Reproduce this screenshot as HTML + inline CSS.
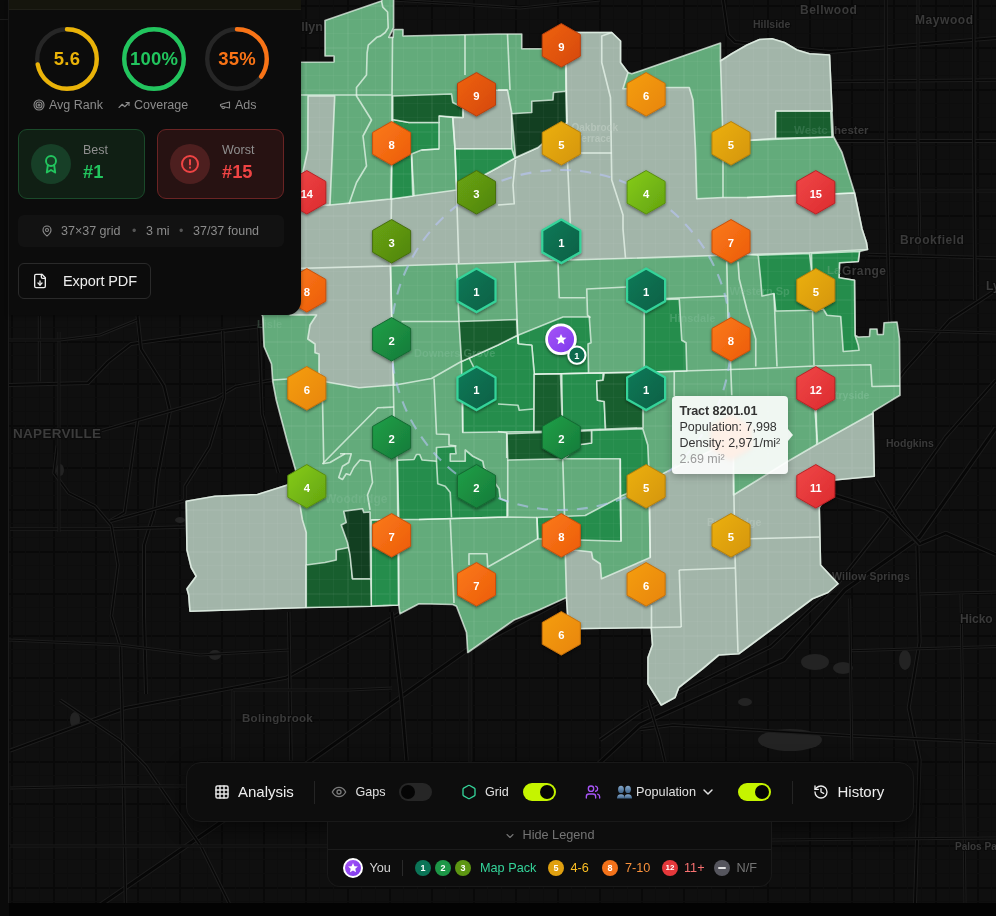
<!DOCTYPE html><html><head><meta charset="utf-8"><title>Map</title><style>
*{box-sizing:border-box;margin:0;padding:0}
html,body{width:996px;height:916px;overflow:hidden;background:#0a0a0a;font-family:"Liberation Sans",sans-serif;}
#root{position:relative;width:996px;height:916px;overflow:hidden;background:#0a0a0a}
#mapbg{position:absolute;left:9px;top:0;width:987px;height:903px;background:#0f0f0f;overflow:hidden}
#leftline{position:absolute;left:8px;top:0;width:1px;height:903px;background:#1c1c1c}
#lefth{position:absolute;left:0;top:19px;width:8px;height:1px;background:#1a1a1a}
#below{position:absolute;left:9px;top:903px;width:987px;height:13px;background:#030303}
#ov{position:absolute;left:0;top:0;will-change:transform}
#panel,#tb,#lg,#tip{will-change:transform}
#bg{position:absolute;left:0;top:0;will-change:transform}
/* panel */
#panel{position:absolute;left:9px;top:0;width:292px;height:315px;background:#0c0c0c;border-radius:0 0 14px 0;box-shadow:0 1px 4px rgba(0,0,0,.35)}
#ptop{position:absolute;left:0;top:0;width:292px;height:10px;background:#15150d;border-bottom:1px solid #1f1f18}
.ring{position:absolute;top:27px;width:64px;height:64px}
.ring svg{position:absolute;left:0;top:0}
.ring .val{position:absolute;left:0;top:0;width:64px;height:64px;line-height:64px;text-align:center;font-weight:700;font-size:18.5px;letter-spacing:.2px}
.rlab{position:absolute;top:98px;height:14px;line-height:14px;font-size:12.5px;color:#8b8b8b;white-space:nowrap}
.rlab svg{position:absolute;top:1px}
.card{position:absolute;top:129px;width:127px;height:70px;border-radius:9px;border:1px solid}
.card .ic{position:absolute;left:12px;top:14px;width:40px;height:40px;border-radius:50%}
.card .t1{position:absolute;left:64px;top:13px;font-size:12.5px;color:#8f8f8f;line-height:14px}
.card .t2{position:absolute;left:64px;top:31px;font-size:18.3px;font-weight:700;line-height:22px}
#info{position:absolute;left:9px;top:215px;width:266px;height:32px;border-radius:6px;background:#121212;color:#8b8b8b;font-size:12.5px;line-height:32px}
#info span{position:absolute;top:0;white-space:nowrap}
#export{position:absolute;left:9px;top:263px;width:133px;height:36px;border:1px solid #2a2a2a;border-radius:6px;background:#0c0c0c}
#export span{position:absolute;left:44px;top:0;line-height:34px;font-size:14.5px;color:#ececec;white-space:nowrap;letter-spacing:-.1px}
/* toolbar */
#tb{position:absolute;left:186px;top:762px;width:728px;height:60px;background:#0d0d0d;border:1px solid #191919;border-radius:15px;box-shadow:0 6px 20px rgba(0,0,0,.5)}
#tb .tx{position:absolute;top:0;line-height:58px;white-space:nowrap}
.tog{position:absolute;top:20px;width:33px;height:18px;border-radius:9px}
.tog i{position:absolute;top:2px;width:14px;height:14px;border-radius:50%;background:#050505}
.vd{position:absolute;top:18px;width:1px;height:23px;background:#242424}
#lg{position:absolute;left:327px;top:822px;width:445px;height:65px;background:#0d0d0d;border:1px solid #191919;border-top:none;border-radius:0 0 13px 13px}
#lg .sep{position:absolute;left:0;top:27px;width:100%;height:1px;background:#1c1c1c}
#lg .hl{position:absolute;left:0;top:0;width:100%;height:27px;line-height:26px;font-size:12.7px;color:#747474}
.dot{position:absolute;top:38px;width:16px;height:16px;border-radius:50%;color:#fff;font-weight:700;font-size:9px;line-height:16px;text-align:center}
.lt{position:absolute;top:36px;line-height:20px;font-size:12.7px;white-space:nowrap}
/* tooltip */
#tip{position:absolute;left:672px;top:396px;width:116px;height:78px;background:rgba(255,255,255,.9);border-radius:4px;box-shadow:0 2px 8px rgba(0,0,0,.25);font-size:12.5px;color:#333;line-height:16.1px;padding:7px 0 0 7.500px;white-space:nowrap}
#tip b{font-size:12.6px;letter-spacing:-.1px}
#tip .g{color:#9a9a9a}
#tiparrow{position:absolute;left:788px;top:429px;width:0;height:0;border-top:6px solid transparent;border-bottom:6px solid transparent;border-left:5px solid rgba(255,255,255,.9)}
</style></head><body><div id="root"><div id="leftline"></div><div id="lefth"></div><div id="mapbg"></div><div id="below"></div><svg id="bg" width="996" height="916" viewBox="0 0 996 916"><defs><clipPath id="bgclip"><rect x="9" y="0" width="987" height="903"/></clipPath><pattern id="grid" width="42" height="42" patternUnits="userSpaceOnUse" patternTransform="translate(11 5)"><rect width="42" height="42" fill="#0f0f0f"/><path d="M0 1H42M1 0V42" stroke="#090909" stroke-width="2"/><path d="M0 14.500H42M0 28.500H42M14.500 0V42M28.500 0V42" stroke="#0d0d0d" stroke-width="1"/></pattern></defs><g clip-path="url(#bgclip)"><rect x="9" y="0" width="987" height="903" fill="url(#grid)"/><ellipse cx="815" cy="662" rx="14" ry="8" fill="#232323"/><ellipse cx="843" cy="668" rx="10" ry="6" fill="#232323"/><ellipse cx="790" cy="740" rx="32" ry="11" fill="#232323"/><ellipse cx="745" cy="702" rx="7" ry="4" fill="#232323"/><ellipse cx="905" cy="660" rx="6" ry="10" fill="#232323"/><ellipse cx="650" cy="880" rx="12" ry="6" fill="#232323"/><ellipse cx="735" cy="870" rx="8" ry="6" fill="#232323"/><ellipse cx="600" cy="845" rx="7" ry="4" fill="#232323"/><ellipse cx="215" cy="655" rx="6" ry="5" fill="#232323"/><ellipse cx="60" cy="470" rx="4" ry="6" fill="#232323"/><ellipse cx="75" cy="720" rx="5" ry="8" fill="#232323"/><ellipse cx="180" cy="520" rx="5" ry="3" fill="#232323"/><polyline points="8,385 88,383 108,362 131,344 223,331 262,326" fill="none" stroke="#1d1d1d" stroke-width="4" stroke-linejoin="round"/><polyline points="8,385 88,383 108,362 131,344 223,331 262,326" fill="none" stroke="#070707" stroke-width="2" stroke-linejoin="round"/><polyline points="137.5,316 141,349 164,386 170,411 157,480 154,512.5 144,545 144,616 146,694" fill="none" stroke="#1d1d1d" stroke-width="4" stroke-linejoin="round"/><polyline points="137.5,316 141,349 164,386 170,411 157,480 154,512.5 144,545 144,616 146,694" fill="none" stroke="#070707" stroke-width="2" stroke-linejoin="round"/><polyline points="101.5,430.6 170,411 216,398 236,386.4 272,380" fill="none" stroke="#1d1d1d" stroke-width="3.5" stroke-linejoin="round"/><polyline points="101.5,430.6 170,411 216,398 236,386.4 272,380" fill="none" stroke="#070707" stroke-width="1.5" stroke-linejoin="round"/><polyline points="222.7,330.7 224.4,398 209.6,447 185,486.3 185,499" fill="none" stroke="#1d1d1d" stroke-width="3.5" stroke-linejoin="round"/><polyline points="222.7,330.7 224.4,398 209.6,447 185,486.3 185,499" fill="none" stroke="#070707" stroke-width="1.5" stroke-linejoin="round"/><polyline points="137.5,421 124.5,512.5 108,522" fill="none" stroke="#1d1d1d" stroke-width="3.5" stroke-linejoin="round"/><polyline points="137.5,421 124.5,512.5 108,522" fill="none" stroke="#070707" stroke-width="1.5" stroke-linejoin="round"/><polyline points="10,529 108,529 185,527" fill="none" stroke="#1d1d1d" stroke-width="3.5" stroke-linejoin="round"/><polyline points="10,529 108,529 185,527" fill="none" stroke="#070707" stroke-width="1.5" stroke-linejoin="round"/><polyline points="108,522 183.4,501" fill="none" stroke="#1d1d1d" stroke-width="3.5" stroke-linejoin="round"/><polyline points="108,522 183.4,501" fill="none" stroke="#070707" stroke-width="1.5" stroke-linejoin="round"/><polyline points="57.3,445.4 54,473 68.8,493 95,506 111.4,525.6 118,565 111.4,616 120,645" fill="none" stroke="#1d1d1d" stroke-width="3.5" stroke-linejoin="round"/><polyline points="57.3,445.4 54,473 68.8,493 95,506 111.4,525.6 118,565 111.4,616 120,645" fill="none" stroke="#070707" stroke-width="1.5" stroke-linejoin="round"/><polyline points="39.3,316 39.3,381.5" fill="none" stroke="#1d1d1d" stroke-width="3" stroke-linejoin="round"/><polyline points="39.3,316 39.3,381.5" fill="none" stroke="#070707" stroke-width="1" stroke-linejoin="round"/><polyline points="59,332 59,532" fill="none" stroke="#1d1d1d" stroke-width="3" stroke-linejoin="round"/><polyline points="59,332 59,532" fill="none" stroke="#070707" stroke-width="1" stroke-linejoin="round"/><polyline points="258.8,326 262,414 278.4,473" fill="none" stroke="#1d1d1d" stroke-width="3.5" stroke-linejoin="round"/><polyline points="258.8,326 262,414 278.4,473" fill="none" stroke="#070707" stroke-width="1.5" stroke-linejoin="round"/><polyline points="9,340 60,340 100,335 137,320" fill="none" stroke="#1d1d1d" stroke-width="3" stroke-linejoin="round"/><polyline points="9,340 60,340 100,335 137,320" fill="none" stroke="#070707" stroke-width="1" stroke-linejoin="round"/><polyline points="60,935 100.4,905 200.8,836 311,760.6 467,650 540,612 566,598" fill="none" stroke="#1d1d1d" stroke-width="5" stroke-linejoin="round"/><polyline points="60,935 100.4,905 200.8,836 311,760.6 467,650 540,612 566,598" fill="none" stroke="#070707" stroke-width="3" stroke-linejoin="round"/><polyline points="10,750.6 125.5,708 286,677.8 371.5,630 400,613" fill="none" stroke="#1d1d1d" stroke-width="4" stroke-linejoin="round"/><polyline points="10,750.6 125.5,708 286,677.8 371.5,630 400,613" fill="none" stroke="#070707" stroke-width="2" stroke-linejoin="round"/><polyline points="288.7,612 291,760.6" fill="none" stroke="#1d1d1d" stroke-width="3.5" stroke-linejoin="round"/><polyline points="288.7,612 291,760.6" fill="none" stroke="#070707" stroke-width="1.5" stroke-linejoin="round"/><polyline points="120.5,645 123,750.6 125.5,905" fill="none" stroke="#1d1d1d" stroke-width="3.5" stroke-linejoin="round"/><polyline points="120.5,645 123,750.6 125.5,905" fill="none" stroke="#070707" stroke-width="1.5" stroke-linejoin="round"/><polyline points="60,700 120.5,740.6 145.6,765.7 200.8,846 230,905" fill="none" stroke="#1d1d1d" stroke-width="3.5" stroke-linejoin="round"/><polyline points="60,700 120.5,740.6 145.6,765.7 200.8,846 230,905" fill="none" stroke="#070707" stroke-width="1.5" stroke-linejoin="round"/><polyline points="10,788 120.5,785.7 186,786" fill="none" stroke="#1d1d1d" stroke-width="3" stroke-linejoin="round"/><polyline points="10,788 120.5,785.7 186,786" fill="none" stroke="#070707" stroke-width="1" stroke-linejoin="round"/><polyline points="10,846 188,846 327,846" fill="none" stroke="#1d1d1d" stroke-width="3" stroke-linejoin="round"/><polyline points="10,846 188,846 327,846" fill="none" stroke="#070707" stroke-width="1" stroke-linejoin="round"/><polyline points="391.6,612 401.6,700 406.6,760.6" fill="none" stroke="#1d1d1d" stroke-width="4.5" stroke-linejoin="round"/><polyline points="391.6,612 401.6,700 406.6,760.6" fill="none" stroke="#070707" stroke-width="2.5" stroke-linejoin="round"/><polyline points="233,690 233,760" fill="none" stroke="#1d1d1d" stroke-width="3" stroke-linejoin="round"/><polyline points="233,690 233,760" fill="none" stroke="#070707" stroke-width="1" stroke-linejoin="round"/><polyline points="233,690 350,690 392,688" fill="none" stroke="#1d1d1d" stroke-width="3" stroke-linejoin="round"/><polyline points="233,690 350,690 392,688" fill="none" stroke="#070707" stroke-width="1" stroke-linejoin="round"/><polyline points="9,640 120,645 200,655 289,650" fill="none" stroke="#1d1d1d" stroke-width="3" stroke-linejoin="round"/><polyline points="9,640 120,645 200,655 289,650" fill="none" stroke="#070707" stroke-width="1" stroke-linejoin="round"/><polyline points="470,650 470,762" fill="none" stroke="#1d1d1d" stroke-width="3" stroke-linejoin="round"/><polyline points="470,650 470,762" fill="none" stroke="#070707" stroke-width="1" stroke-linejoin="round"/><polyline points="560,800 640,725 784,659.6 845,589.7 919.6,537 996,428" fill="none" stroke="#1d1d1d" stroke-width="5" stroke-linejoin="round"/><polyline points="560,800 640,725 784,659.6 845,589.7 919.6,537 996,428" fill="none" stroke="#070707" stroke-width="3" stroke-linejoin="round"/><polyline points="600,740 640,712 771,646.5 836.6,585 884.6,524 945.8,436.8 996,380" fill="none" stroke="#1d1d1d" stroke-width="4" stroke-linejoin="round"/><polyline points="600,740 640,712 771,646.5 836.6,585 884.6,524 945.8,436.8 996,380" fill="none" stroke="#070707" stroke-width="2" stroke-linejoin="round"/><polyline points="821,491 884.6,511 919.6,543.8 945.8,533 996,554.7" fill="none" stroke="#1d1d1d" stroke-width="4.5" stroke-linejoin="round"/><polyline points="821,491 884.6,511 919.6,543.8 945.8,533 996,554.7" fill="none" stroke="#070707" stroke-width="2.5" stroke-linejoin="round"/><polyline points="917.4,546 919.6,642 908.7,707.6 919.6,760 915,903" fill="none" stroke="#1d1d1d" stroke-width="4" stroke-linejoin="round"/><polyline points="917.4,546 919.6,642 908.7,707.6 919.6,760 915,903" fill="none" stroke="#070707" stroke-width="2" stroke-linejoin="round"/><polyline points="876,480.5 902,524 919.6,543.8" fill="none" stroke="#1d1d1d" stroke-width="4" stroke-linejoin="round"/><polyline points="876,480.5 902,524 919.6,543.8" fill="none" stroke="#070707" stroke-width="2" stroke-linejoin="round"/><polyline points="849.7,650.8 996,646.5" fill="none" stroke="#1d1d1d" stroke-width="3" stroke-linejoin="round"/><polyline points="849.7,650.8 996,646.5" fill="none" stroke="#070707" stroke-width="1" stroke-linejoin="round"/><polyline points="919.6,594 996,592" fill="none" stroke="#1d1d1d" stroke-width="3" stroke-linejoin="round"/><polyline points="919.6,594 996,592" fill="none" stroke="#070707" stroke-width="1" stroke-linejoin="round"/><polyline points="640,729.5 672.8,725 854,736 996,742.6" fill="none" stroke="#1d1d1d" stroke-width="3.5" stroke-linejoin="round"/><polyline points="640,729.5 672.8,725 854,736 996,742.6" fill="none" stroke="#070707" stroke-width="1.5" stroke-linejoin="round"/><polyline points="849.7,598.4 851.9,760" fill="none" stroke="#1d1d1d" stroke-width="3" stroke-linejoin="round"/><polyline points="849.7,598.4 851.9,760" fill="none" stroke="#070707" stroke-width="1" stroke-linejoin="round"/><polyline points="961,594 963.3,751 965,903" fill="none" stroke="#1d1d1d" stroke-width="3" stroke-linejoin="round"/><polyline points="961,594 963.3,751 965,903" fill="none" stroke="#070707" stroke-width="1" stroke-linejoin="round"/><polyline points="772,840 996,838" fill="none" stroke="#1d1d1d" stroke-width="3" stroke-linejoin="round"/><polyline points="772,840 996,838" fill="none" stroke="#070707" stroke-width="1" stroke-linejoin="round"/><polyline points="648,700 660,740 665,762" fill="none" stroke="#1d1d1d" stroke-width="3.5" stroke-linejoin="round"/><polyline points="648,700 660,740 665,762" fill="none" stroke="#070707" stroke-width="1.5" stroke-linejoin="round"/><polyline points="723,0 728,35 735,42 830,52 996,38" fill="none" stroke="#1d1d1d" stroke-width="4" stroke-linejoin="round"/><polyline points="723,0 728,35 735,42 830,52 996,38" fill="none" stroke="#070707" stroke-width="2" stroke-linejoin="round"/><polyline points="833,81.5 996,80" fill="none" stroke="#1d1d1d" stroke-width="3.5" stroke-linejoin="round"/><polyline points="833,81.5 996,80" fill="none" stroke="#070707" stroke-width="1.5" stroke-linejoin="round"/><polyline points="836,141 996,141" fill="none" stroke="#1d1d1d" stroke-width="4" stroke-linejoin="round"/><polyline points="836,141 996,141" fill="none" stroke="#070707" stroke-width="2" stroke-linejoin="round"/><polyline points="850,191 996,191" fill="none" stroke="#1d1d1d" stroke-width="3" stroke-linejoin="round"/><polyline points="850,191 996,191" fill="none" stroke="#070707" stroke-width="1" stroke-linejoin="round"/><polyline points="868,254.5 996,258" fill="none" stroke="#1d1d1d" stroke-width="3.5" stroke-linejoin="round"/><polyline points="868,254.5 996,258" fill="none" stroke="#070707" stroke-width="1.5" stroke-linejoin="round"/><polyline points="886,0 886,141 888,254 890,330" fill="none" stroke="#1d1d1d" stroke-width="3.5" stroke-linejoin="round"/><polyline points="886,0 886,141 888,254 890,330" fill="none" stroke="#070707" stroke-width="1.5" stroke-linejoin="round"/><polyline points="918,0 918,141 920,254" fill="none" stroke="#1d1d1d" stroke-width="3" stroke-linejoin="round"/><polyline points="918,0 918,141 920,254" fill="none" stroke="#070707" stroke-width="1" stroke-linejoin="round"/><polyline points="973.8,0 973.8,141 975,300" fill="none" stroke="#1d1d1d" stroke-width="3.5" stroke-linejoin="round"/><polyline points="973.8,0 973.8,141 975,300" fill="none" stroke="#070707" stroke-width="1.5" stroke-linejoin="round"/><polyline points="996,290 950,320 905,370 880,405" fill="none" stroke="#1d1d1d" stroke-width="4" stroke-linejoin="round"/><polyline points="996,290 950,320 905,370 880,405" fill="none" stroke="#070707" stroke-width="2" stroke-linejoin="round"/><polyline points="900,330 996,333" fill="none" stroke="#1d1d1d" stroke-width="3" stroke-linejoin="round"/><polyline points="900,330 996,333" fill="none" stroke="#070707" stroke-width="1" stroke-linejoin="round"/><polyline points="393,0 520,8 600,0" fill="none" stroke="#1d1d1d" stroke-width="3" stroke-linejoin="round"/><polyline points="393,0 520,8 600,0" fill="none" stroke="#070707" stroke-width="1" stroke-linejoin="round"/><polyline points="9,62 255,62" fill="none" stroke="#1d1d1d" stroke-width="3" stroke-linejoin="round"/><polyline points="9,62 255,62" fill="none" stroke="#070707" stroke-width="1" stroke-linejoin="round"/></g><text x="753" y="28" font-family="Liberation Sans, sans-serif" font-weight="700" font-size="10.5" fill="#3a3a3a" letter-spacing="0" stroke="#0b0b0b" stroke-width="2" paint-order="stroke">Hillside</text><text x="800" y="14" font-family="Liberation Sans, sans-serif" font-weight="700" font-size="12" fill="#3a3a3a" letter-spacing="0.5" stroke="#0b0b0b" stroke-width="2" paint-order="stroke">Bellwood</text><text x="915" y="23.5" font-family="Liberation Sans, sans-serif" font-weight="700" font-size="12" fill="#3a3a3a" letter-spacing="0.55" stroke="#0b0b0b" stroke-width="2" paint-order="stroke">Maywood</text><text x="834" y="134" font-family="Liberation Sans, sans-serif" font-weight="700" font-size="11.5" fill="#3a3a3a" letter-spacing="0" stroke="#0b0b0b" stroke-width="2" paint-order="stroke">hester</text><text x="900" y="244" font-family="Liberation Sans, sans-serif" font-weight="700" font-size="12" fill="#3a3a3a" letter-spacing="0.5" stroke="#0b0b0b" stroke-width="2" paint-order="stroke">Brookfield</text><text x="842" y="275" font-family="Liberation Sans, sans-serif" font-weight="700" font-size="12" fill="#3a3a3a" letter-spacing="0.4" stroke="#0b0b0b" stroke-width="2" paint-order="stroke">Grange</text><text x="986" y="290" font-family="Liberation Sans, sans-serif" font-weight="700" font-size="12" fill="#3a3a3a" letter-spacing="0" stroke="#0b0b0b" stroke-width="2" paint-order="stroke">Ly</text><text x="886" y="447" font-family="Liberation Sans, sans-serif" font-weight="700" font-size="10.5" fill="#3a3a3a" letter-spacing="0" stroke="#0b0b0b" stroke-width="2" paint-order="stroke">Hodgkins</text><text x="832" y="580" font-family="Liberation Sans, sans-serif" font-weight="700" font-size="10.5" fill="#3a3a3a" letter-spacing="0.2" stroke="#0b0b0b" stroke-width="2" paint-order="stroke">Willow Springs</text><text x="960" y="623" font-family="Liberation Sans, sans-serif" font-weight="700" font-size="12" fill="#3a3a3a" letter-spacing="0" stroke="#0b0b0b" stroke-width="2" paint-order="stroke">Hicko</text><text x="242" y="722" font-family="Liberation Sans, sans-serif" font-weight="700" font-size="11.5" fill="#3a3a3a" letter-spacing="0.3" stroke="#0b0b0b" stroke-width="2" paint-order="stroke">Bolingbrook</text><text x="13" y="438" font-family="Liberation Sans, sans-serif" font-weight="700" font-size="13.5" fill="#3c3c3c" letter-spacing="0.3" stroke="#0b0b0b" stroke-width="2" paint-order="stroke">NAPERVILLE</text><text x="955" y="850" font-family="Liberation Sans, sans-serif" font-weight="700" font-size="10" fill="#3a3a3a" letter-spacing="0" stroke="#0b0b0b" stroke-width="2" paint-order="stroke">Palos Pa</text><text x="294.3" y="30.5" font-family="Liberation Sans, sans-serif" font-weight="700" font-size="12.5" fill="#3a3a3a" letter-spacing="0" stroke="#0b0b0b" stroke-width="2" paint-order="stroke">ellyn</text></svg><svg id="ov" width="996" height="916" viewBox="0 0 996 916">
<defs>
<linearGradient id="g1" x1="0" y1="0" x2="1" y2="1"><stop offset="0" stop-color="#0b7a57"/><stop offset="1" stop-color="#065f46"/></linearGradient>
<linearGradient id="g2" x1="0" y1="0" x2="1" y2="1"><stop offset="0" stop-color="#1fa047"/><stop offset="1" stop-color="#167a3a"/></linearGradient>
<linearGradient id="g3" x1="0" y1="0" x2="1" y2="1"><stop offset="0" stop-color="#6ba512"/><stop offset="1" stop-color="#4f8410"/></linearGradient>
<linearGradient id="g4" x1="0" y1="0" x2="1" y2="1"><stop offset="0" stop-color="#86cc18"/><stop offset="1" stop-color="#63a30f"/></linearGradient>
<linearGradient id="g5" x1="0" y1="0" x2="1" y2="1"><stop offset="0" stop-color="#ecb00c"/><stop offset="1" stop-color="#d4950a"/></linearGradient>
<linearGradient id="g6" x1="0" y1="0" x2="1" y2="1"><stop offset="0" stop-color="#f59e0b"/><stop offset="1" stop-color="#e8850a"/></linearGradient>
<linearGradient id="g7" x1="0" y1="0" x2="1" y2="1"><stop offset="0" stop-color="#fb7a18"/><stop offset="1" stop-color="#ec5c0b"/></linearGradient>
<linearGradient id="g8" x1="0" y1="0" x2="1" y2="1"><stop offset="0" stop-color="#fb7a18"/><stop offset="1" stop-color="#ec5c0b"/></linearGradient>
<linearGradient id="g9" x1="0" y1="0" x2="1" y2="1"><stop offset="0" stop-color="#ef6210"/><stop offset="1" stop-color="#d5480c"/></linearGradient>
<linearGradient id="g11" x1="0" y1="0" x2="1" y2="1"><stop offset="0" stop-color="#f04848"/><stop offset="1" stop-color="#dc2a2e"/></linearGradient>
<linearGradient id="g12" x1="0" y1="0" x2="1" y2="1"><stop offset="0" stop-color="#f04848"/><stop offset="1" stop-color="#dc2a2e"/></linearGradient>
<linearGradient id="g14" x1="0" y1="0" x2="1" y2="1"><stop offset="0" stop-color="#f04848"/><stop offset="1" stop-color="#dc2a2e"/></linearGradient>
<linearGradient id="g15" x1="0" y1="0" x2="1" y2="1"><stop offset="0" stop-color="#f04848"/><stop offset="1" stop-color="#dc2a2e"/></linearGradient>
<linearGradient id="gstar" x1="0" y1="0" x2="1" y2="1"><stop offset="0" stop-color="#a855f7"/><stop offset="1" stop-color="#7c3aed"/></linearGradient>
<filter id="sh" x="-30%" y="-30%" width="160%" height="170%"><feDropShadow dx="0" dy="1.5" stdDeviation="1.6" flood-color="#000" flood-opacity="0.45"/></filter>
<filter id="bl" x="-30%" y="-30%" width="160%" height="160%"><feGaussianBlur stdDeviation="2.2"/></filter>
<clipPath id="outclip"><polygon points="255,62.5 334,62 334,56 325,56 325,20.5 381.5,1 383,-2 393.6,-2 393.6,27.7 388.8,37.3 393.2,37.3 393.6,29.5 403,29.5 403,36 498,34 521.75,34 521.75,48.75 565.5,48.75 565.5,32.5 611.75,32.5 620.5,41 620.5,62.5 628,72.5 631.75,73.75 720.5,43 720.5,61 731.75,53.75 747,45 759.5,39.5 772,38.75 784.5,42.5 797,50 809.5,53.75 829.5,55 832,111 833.25,136 842,152.5 854.5,192.5 862,229 866.5,242.75 867.5,249.5 859.5,251.5 858.25,261.5 839.5,262.75 839,277.75 854.5,280.25 855,335.25 858.25,337 869.5,336.5 870,329 877,329 877.5,334.5 883.25,334.5 884,322.75 897,322 899.5,339 900,395.25 873.25,411.5 873,413 874.25,476.25 834.25,480 819.25,507.5 820.5,565 838,583.75 828,592.5 812.5,598.75 777.5,625 738.75,653.75 718.75,655 702.5,668.75 678.75,687.5 675,697.5 661.25,705 648,683.75 648,657.5 652.5,645 651.25,627.5 568.5,628.75 566.5,597.5 539,610 514,620 467.75,652.5 466.5,632.5 456.5,606.25 452.75,604.5 419,603.75 400,613.75 398.75,605 371.25,606.25 306.25,607.5 190,611.25 188.75,595 187,588.75 196.25,576.25 191.25,567.5 187,550 186.25,501.25 215,496.25 257.5,494.5 287.5,485 296.25,472.5 287.5,442.5 276.25,400 272.75,381.5 271.5,364 264,346.5 262.75,316.5 255,300"/></clipPath>
<pattern id="tex" width="42" height="42" patternUnits="userSpaceOnUse" patternTransform="translate(11 5)"><path d="M0 1H42M1 0V42" stroke="#fff" stroke-opacity=".055" stroke-width="1.6"/><path d="M0 14.500H42M0 28.500H42M14.500 0V42M28.500 0V42" stroke="#fff" stroke-opacity=".03" stroke-width="1"/></pattern>
<clipPath id="mapclip"><rect x="9" y="0" width="987" height="903"/></clipPath>
</defs>
<g clip-path="url(#mapclip)">
<polygon points="255,62.5 334,62 334,56 325,56 325,20.5 381.5,1 383,-2 393.6,-2 393.6,27.7 388.8,37.3 393.2,37.3 393.6,29.5 403,29.5 403,36 498,34 521.75,34 521.75,48.75 565.5,48.75 565.5,32.5 611.75,32.5 620.5,41 620.5,62.5 628,72.5 631.75,73.75 720.5,43 720.5,61 731.75,53.75 747,45 759.5,39.5 772,38.75 784.5,42.5 797,50 809.5,53.75 829.5,55 832,111 833.25,136 842,152.5 854.5,192.5 862,229 866.5,242.75 867.5,249.5 859.5,251.5 858.25,261.5 839.5,262.75 839,277.75 854.5,280.25 855,335.25 858.25,337 869.5,336.5 870,329 877,329 877.5,334.5 883.25,334.5 884,322.75 897,322 899.5,339 900,395.25 873.25,411.5 873,413 874.25,476.25 834.25,480 819.25,507.5 820.5,565 838,583.75 828,592.5 812.5,598.75 777.5,625 738.75,653.75 718.75,655 702.5,668.75 678.75,687.5 675,697.5 661.25,705 648,683.75 648,657.5 652.5,645 651.25,627.5 568.5,628.75 566.5,597.5 539,610 514,620 467.75,652.5 466.5,632.5 456.5,606.25 452.75,604.5 419,603.75 400,613.75 398.75,605 371.25,606.25 306.25,607.5 190,611.25 188.75,595 187,588.75 196.25,576.25 191.25,567.5 187,550 186.25,501.25 215,496.25 257.5,494.5 287.5,485 296.25,472.5 287.5,442.5 276.25,400 272.75,381.5 271.5,364 264,346.5 262.75,316.5 255,300" fill="#63ab7b" stroke="#ebf8ef" stroke-opacity="0.72" stroke-width="1.65" stroke-linejoin="round"/>
<polygon points="308,96 334.75,96 332,160 330,205 295,208 295,180 302.75,172.5 307.75,150" fill="#a2b5a9" stroke="#ebf8ef" stroke-opacity="0.72" stroke-width="1.65" stroke-linejoin="round"/>
<polygon points="463,91 507.5,90 511.75,113 511.75,148.75 455,149 452.75,117.5 463,117.5" fill="#a2b5a9" stroke="#ebf8ef" stroke-opacity="0.72" stroke-width="1.65" stroke-linejoin="round"/>
<polygon points="290,208 330,205 390,199 456.5,190 498,167.5 515,158 538,147.5 566.75,122.5 566,90 565.5,48.75 565.5,32.5 611.75,32.5 620.5,41 620.5,62.5 628,72.5 623,88.75 665.5,87.5 689.25,87.5 693,100 695.5,150 696.75,198.75 723,197.5 747,197.5 854.5,193 862,229 866.5,242.75 867.5,249.5 809.5,252.75 747,254.5 623,258.5 560.5,260.25 498,262.75 390.5,266 392.75,361.5 394,385 359,387.75 324,381.5 319,372.75 319,354 315,352.75 315,344 307.75,339 310,325 316.5,315 290,315" fill="#a2b5a9" stroke="#ebf8ef" stroke-opacity="0.72" stroke-width="1.65" stroke-linejoin="round"/>
<polygon points="720.5,61 731.75,53.75 747,45 759.5,39.5 772,38.75 784.5,42.5 797,50 809.5,53.75 829.5,55 832,111 775.75,111.25 775.75,138.25 747,140.5 723,141" fill="#a2b5a9" stroke="#ebf8ef" stroke-opacity="0.72" stroke-width="1.65" stroke-linejoin="round"/>
<polygon points="186.25,501.25 215,496.25 257.5,494.5 287.5,485 300,505 302.5,520 306.25,532.5 306.25,607.5 190,611.25 188.75,595 187,588.75 196.25,576.25 191.25,567.5 187,550" fill="#a2b5a9" stroke="#ebf8ef" stroke-opacity="0.72" stroke-width="1.65" stroke-linejoin="round"/>
<polygon points="649,481 668,471 733.5,440 733.5,495 788,461.25 816.75,444.5 873,413 874.25,476.25 834.25,480 819.25,507.5 820.5,565 838,583.75 828,592.5 812.5,598.75 777.5,625 738.75,653.75 718.75,655 702.5,668.75 678.75,687.5 675,697.5 661.25,705 648,683.75 648,657.5 652.5,645 651.25,627.5 568.5,628.75 566.5,597.5 565.25,552.5 574,550 591.5,552 592.75,558.75 600.25,563.75 601.5,578.75 650.25,557.5" fill="#a2b5a9" stroke="#ebf8ef" stroke-opacity="0.72" stroke-width="1.65" stroke-linejoin="round"/>
<polygon points="392.75,119.5 409,122.5 439,122.5 439,149 421.5,150 411.5,154 412.75,196 390.75,199" fill="#258d4c" stroke="#ebf8ef" stroke-opacity="0.72" stroke-width="1.65" stroke-linejoin="round"/>
<polygon points="455,149 511.75,148.75 515,158 498,167.5 456.5,190" fill="#258d4c" stroke="#ebf8ef" stroke-opacity="0.72" stroke-width="1.65" stroke-linejoin="round"/>
<polygon points="518,335.25 563,317 589.25,317 591,342.75 588,344 588.5,373.2 534.25,374.3 531.75,345.25 518.5,344" fill="#258d4c" stroke="#ebf8ef" stroke-opacity="0.72" stroke-width="1.65" stroke-linejoin="round"/>
<polygon points="461.5,361.5 498,345 517.5,335.25 518.5,344 531.75,345.25 534.25,374 534,431.5 462.75,432.5" fill="#258d4c" stroke="#ebf8ef" stroke-opacity="0.72" stroke-width="1.65" stroke-linejoin="round"/>
<polygon points="644.25,300.25 679.25,299 681.75,340.25 686,342.75 686.75,371 644.25,372.2" fill="#258d4c" stroke="#ebf8ef" stroke-opacity="0.72" stroke-width="1.65" stroke-linejoin="round"/>
<polygon points="561.75,373.8 603,372.9 603,380.25 596.75,381 597.5,400.25 604.25,401.5 605.5,429 562.5,431" fill="#258d4c" stroke="#ebf8ef" stroke-opacity="0.72" stroke-width="1.65" stroke-linejoin="round"/>
<polygon points="591.5,430.5 642.75,428.75 647.75,445 649,472.5 626.5,493.75 620.25,496.25 620.25,458.75 564,458.75 580.25,444.5 591.5,443" fill="#258d4c" stroke="#ebf8ef" stroke-opacity="0.72" stroke-width="1.65" stroke-linejoin="round"/>
<polygon points="537,517.5 585.25,515.5 620.25,497 621,541.25 537.75,538.75" fill="#258d4c" stroke="#ebf8ef" stroke-opacity="0.72" stroke-width="1.65" stroke-linejoin="round"/>
<polygon points="397.3,460.3 414,459.5 416.5,454.5 419.7,454.5 422,460 436.5,461.25 436.5,447.5 455.25,446.25 456,453.75 450.25,453.75 450.25,461.25 465.25,461.25 465.25,450 472.75,456.25 482.75,461.25 484,467.5 499,488.75 500.25,498.75 507,501.25 507,517 419,519.5 398.75,519.5" fill="#258d4c" stroke="#ebf8ef" stroke-opacity="0.72" stroke-width="1.65" stroke-linejoin="round"/>
<polygon points="371.25,520 398.75,519 398.75,605 371.25,606" fill="#258d4c" stroke="#ebf8ef" stroke-opacity="0.72" stroke-width="1.65" stroke-linejoin="round"/>
<polygon points="758.25,255.25 809.5,253.5 811.5,270 812,310.25 775.75,311 774,293.5 762,296 760.75,280.25" fill="#258d4c" stroke="#ebf8ef" stroke-opacity="0.72" stroke-width="1.65" stroke-linejoin="round"/>
<polygon points="811.5,253.5 859.5,251.5 858.25,261.5 839.5,262.75 839,277.75 854.5,280.25 855,335.25 858.25,345.25 859,350.25 843.25,351.5 840.75,316.5 827,315.25 823.25,309 812.5,310.25" fill="#258d4c" stroke="#ebf8ef" stroke-opacity="0.72" stroke-width="1.65" stroke-linejoin="round"/>
<polygon points="392.75,96 451.5,94 452.75,102.5 462.75,107.5 462.75,117.5 439,116 439,122.5 409,122.5 392.75,119.5" fill="#185e2e" stroke="#ebf8ef" stroke-opacity="0.72" stroke-width="1.65" stroke-linejoin="round"/>
<polygon points="775.75,111.25 830.75,111.25 832,137 775.75,138.25" fill="#185e2e" stroke="#ebf8ef" stroke-opacity="0.72" stroke-width="1.65" stroke-linejoin="round"/>
<polygon points="459,321.5 498,320.25 516.75,319.5 517.5,335.25 498,345 461.5,361.5" fill="#185e2e" stroke="#ebf8ef" stroke-opacity="0.72" stroke-width="1.65" stroke-linejoin="round"/>
<polygon points="534.25,374.3 560.5,373.8 562.5,431 534,431.5" fill="#185e2e" stroke="#ebf8ef" stroke-opacity="0.72" stroke-width="1.65" stroke-linejoin="round"/>
<polygon points="604.25,372.9 643,372.2 643,427.75 605.5,429 604.25,401.5 597.5,400.25 596.75,381 603,380.25" fill="#185e2e" stroke="#ebf8ef" stroke-opacity="0.72" stroke-width="1.65" stroke-linejoin="round"/>
<polygon points="507,433.75 580.25,431.25 591.5,430.5 591.5,443 580.25,444.5 562.75,458.75 507.75,460" fill="#185e2e" stroke="#ebf8ef" stroke-opacity="0.72" stroke-width="1.65" stroke-linejoin="round"/>
<polygon points="306.25,565 325,562.5 336.25,560 336.25,550 348.75,547.5 350.5,555 352.5,578.75 370.75,578.75 371.25,606.25 306.25,607.5" fill="#185e2e" stroke="#ebf8ef" stroke-opacity="0.72" stroke-width="1.65" stroke-linejoin="round"/>
<polygon points="511.75,113.75 531.75,112.5 531.75,101.25 553,100 553.5,92.5 566,91.25 566.75,122.5 538,147.5 515.5,157.5" fill="#123f21" stroke="#ebf8ef" stroke-opacity="0.72" stroke-width="1.65" stroke-linejoin="round"/>
<polygon points="343.75,511.25 362.5,508.75 363.75,512.5 370,512 370.75,578.75 352.5,578.75 350,555 347.5,542.5 341.25,525 346.25,522.5" fill="#123f21" stroke="#ebf8ef" stroke-opacity="0.72" stroke-width="1.65" stroke-linejoin="round"/>
<polyline points="381.5,1.2 382.8,7.2 387.6,12 388.2,27.7 385.2,32.5 380.4,36.1 376.7,37.3 368.3,45.2 367.1,53 366.5,75 356.5,87.5 356.5,96 371.5,120 363,136 366.5,166 356.5,182.5 349,204" fill="none" stroke="#ebf8ef" stroke-opacity="0.72" stroke-width="1.65" stroke-linejoin="round"/>
<polyline points="392.5,37.3 392,96 391.5,199 390.5,266" fill="none" stroke="#ebf8ef" stroke-opacity="0.72" stroke-width="1.65" stroke-linejoin="round"/>
<polyline points="295,95 391.5,95" fill="none" stroke="#ebf8ef" stroke-opacity="0.72" stroke-width="1.65" stroke-linejoin="round"/>
<polyline points="465,35 465,75" fill="none" stroke="#ebf8ef" stroke-opacity="0.72" stroke-width="1.65" stroke-linejoin="round"/>
<polyline points="507.5,34 510,90" fill="none" stroke="#ebf8ef" stroke-opacity="0.72" stroke-width="1.65" stroke-linejoin="round"/>
<polyline points="498,90 507.5,90" fill="none" stroke="#ebf8ef" stroke-opacity="0.72" stroke-width="1.65" stroke-linejoin="round"/>
<polyline points="439,116 452.75,117.5 455,149 456.5,190" fill="none" stroke="#ebf8ef" stroke-opacity="0.72" stroke-width="1.65" stroke-linejoin="round"/>
<polyline points="421.5,150 439,149" fill="none" stroke="#ebf8ef" stroke-opacity="0.72" stroke-width="1.65" stroke-linejoin="round"/>
<polyline points="411.5,154 414,196" fill="none" stroke="#ebf8ef" stroke-opacity="0.72" stroke-width="1.65" stroke-linejoin="round"/>
<polyline points="566,49 567,150 570.5,229 571,260" fill="none" stroke="#ebf8ef" stroke-opacity="0.72" stroke-width="1.65" stroke-linejoin="round"/>
<polyline points="611.75,32.5 601.75,36 601.75,62.5 610.5,97.5 611.75,180 623,215 623,229 625.5,257.75" fill="none" stroke="#ebf8ef" stroke-opacity="0.72" stroke-width="1.65" stroke-linejoin="round"/>
<polyline points="580.5,153 611.75,153" fill="none" stroke="#ebf8ef" stroke-opacity="0.72" stroke-width="1.65" stroke-linejoin="round"/>
<polyline points="498,205 514.25,203.75 513,185 515.5,160" fill="none" stroke="#ebf8ef" stroke-opacity="0.72" stroke-width="1.65" stroke-linejoin="round"/>
<polyline points="723,141 723,197.5" fill="none" stroke="#ebf8ef" stroke-opacity="0.72" stroke-width="1.65" stroke-linejoin="round"/>
<polyline points="747,140.5 833,137" fill="none" stroke="#ebf8ef" stroke-opacity="0.72" stroke-width="1.65" stroke-linejoin="round"/>
<polyline points="747,197.5 854.5,193" fill="none" stroke="#ebf8ef" stroke-opacity="0.72" stroke-width="1.65" stroke-linejoin="round"/>
<polyline points="515,262.75 518,344" fill="none" stroke="#ebf8ef" stroke-opacity="0.72" stroke-width="1.65" stroke-linejoin="round"/>
<polyline points="558,261.5 559.25,297.75 585.5,297.75" fill="none" stroke="#ebf8ef" stroke-opacity="0.72" stroke-width="1.65" stroke-linejoin="round"/>
<polyline points="626.75,287 586.75,289 587.5,315.25 590.5,317.75" fill="none" stroke="#ebf8ef" stroke-opacity="0.72" stroke-width="1.65" stroke-linejoin="round"/>
<polyline points="401.5,321.5 459,321.5" fill="none" stroke="#ebf8ef" stroke-opacity="0.72" stroke-width="1.65" stroke-linejoin="round"/>
<polyline points="456.5,264 459,321.5" fill="none" stroke="#ebf8ef" stroke-opacity="0.72" stroke-width="1.65" stroke-linejoin="round"/>
<polyline points="394,385.25 431.5,378.5 459,362.75 461.5,361.5" fill="none" stroke="#ebf8ef" stroke-opacity="0.72" stroke-width="1.65" stroke-linejoin="round"/>
<polyline points="295,268.5 390.5,266" fill="none" stroke="#ebf8ef" stroke-opacity="0.72" stroke-width="1.65" stroke-linejoin="round"/>
<polyline points="456.5,190 457,205 458.8,263" fill="none" stroke="#ebf8ef" stroke-opacity="0.72" stroke-width="1.65" stroke-linejoin="round"/>
<polyline points="272.75,380 288,379" fill="none" stroke="#ebf8ef" stroke-opacity="0.72" stroke-width="1.65" stroke-linejoin="round"/>
<polyline points="390.5,266 392.75,361.5 394.5,440 397.3,460 398.6,605" fill="none" stroke="#ebf8ef" stroke-opacity="0.72" stroke-width="1.65" stroke-linejoin="round"/>
<polyline points="469,357.75 474,367.75" fill="none" stroke="#ebf8ef" stroke-opacity="0.72" stroke-width="1.65" stroke-linejoin="round"/>
<polyline points="434,378.5 436.5,434 449,434.5 449,445 456.5,446" fill="none" stroke="#ebf8ef" stroke-opacity="0.72" stroke-width="1.65" stroke-linejoin="round"/>
<polyline points="324,381.5 322.5,400 323.75,462.5" fill="none" stroke="#ebf8ef" stroke-opacity="0.72" stroke-width="1.65" stroke-linejoin="round"/>
<polyline points="394,407 377.75,407.75 322.5,463.75" fill="none" stroke="#ebf8ef" stroke-opacity="0.72" stroke-width="1.65" stroke-linejoin="round"/>
<polyline points="665.5,298.5 726.75,296" fill="none" stroke="#ebf8ef" stroke-opacity="0.72" stroke-width="1.65" stroke-linejoin="round"/>
<polyline points="726.75,261.5 728,316.5 730.5,361.5 731.75,395.25" fill="none" stroke="#ebf8ef" stroke-opacity="0.72" stroke-width="1.65" stroke-linejoin="round"/>
<polyline points="738,261.5 739.25,279 746.75,309 755.75,339 755.75,366.5" fill="none" stroke="#ebf8ef" stroke-opacity="0.72" stroke-width="1.65" stroke-linejoin="round"/>
<polyline points="534,374.3 623,372.5 643,372.2 747,369 814.5,366 870.75,364.75 872,386.5 900,386" fill="none" stroke="#ebf8ef" stroke-opacity="0.72" stroke-width="1.65" stroke-linejoin="round"/>
<polyline points="674.25,371.5 674.25,396" fill="none" stroke="#ebf8ef" stroke-opacity="0.72" stroke-width="1.65" stroke-linejoin="round"/>
<polyline points="774,293.5 777,366.5" fill="none" stroke="#ebf8ef" stroke-opacity="0.72" stroke-width="1.65" stroke-linejoin="round"/>
<polyline points="812.5,310.25 814,365.25" fill="none" stroke="#ebf8ef" stroke-opacity="0.72" stroke-width="1.65" stroke-linejoin="round"/>
<polyline points="815,410.25 817.5,442.75" fill="none" stroke="#ebf8ef" stroke-opacity="0.72" stroke-width="1.65" stroke-linejoin="round"/>
<polyline points="747,254.5 758.25,255.25" fill="none" stroke="#ebf8ef" stroke-opacity="0.72" stroke-width="1.65" stroke-linejoin="round"/>
<polyline points="498,404 518,405.25 519.25,410.25 533,409" fill="none" stroke="#ebf8ef" stroke-opacity="0.72" stroke-width="1.65" stroke-linejoin="round"/>
<polyline points="498,431.5 506.75,432.75 506.75,458" fill="none" stroke="#ebf8ef" stroke-opacity="0.72" stroke-width="1.65" stroke-linejoin="round"/>
<polyline points="462.75,400 462.75,432.5" fill="none" stroke="#ebf8ef" stroke-opacity="0.72" stroke-width="1.65" stroke-linejoin="round"/>
<polyline points="419,519.5 507,517 537,517.5" fill="none" stroke="#ebf8ef" stroke-opacity="0.72" stroke-width="1.65" stroke-linejoin="round"/>
<polyline points="507.75,460 507.75,516.25" fill="none" stroke="#ebf8ef" stroke-opacity="0.72" stroke-width="1.65" stroke-linejoin="round"/>
<polyline points="562.75,459.25 564.5,515" fill="none" stroke="#ebf8ef" stroke-opacity="0.72" stroke-width="1.65" stroke-linejoin="round"/>
<polyline points="620.25,458.75 621,541.25" fill="none" stroke="#ebf8ef" stroke-opacity="0.72" stroke-width="1.65" stroke-linejoin="round"/>
<polyline points="649,472.5 650.25,557.5" fill="none" stroke="#ebf8ef" stroke-opacity="0.72" stroke-width="1.65" stroke-linejoin="round"/>
<polyline points="436.5,461.25 437.75,483.75 445.25,486.25 450.25,492.5 451.5,517.5" fill="none" stroke="#ebf8ef" stroke-opacity="0.72" stroke-width="1.65" stroke-linejoin="round"/>
<polyline points="450.25,519.5 454,603" fill="none" stroke="#ebf8ef" stroke-opacity="0.72" stroke-width="1.65" stroke-linejoin="round"/>
<polyline points="469,565 469,553.75 487,553.75 487.75,567 537.75,538.75" fill="none" stroke="#ebf8ef" stroke-opacity="0.72" stroke-width="1.65" stroke-linejoin="round"/>
<polyline points="537,517.5 537.75,538.75" fill="none" stroke="#ebf8ef" stroke-opacity="0.72" stroke-width="1.65" stroke-linejoin="round"/>
<polyline points="565.25,515 565.25,552.5" fill="none" stroke="#ebf8ef" stroke-opacity="0.72" stroke-width="1.65" stroke-linejoin="round"/>
<polyline points="733.5,473 735,555 738,652.5" fill="none" stroke="#ebf8ef" stroke-opacity="0.72" stroke-width="1.65" stroke-linejoin="round"/>
<polyline points="749.25,538.75 819.25,537" fill="none" stroke="#ebf8ef" stroke-opacity="0.72" stroke-width="1.65" stroke-linejoin="round"/>
<polyline points="679.25,570 735,568" fill="none" stroke="#ebf8ef" stroke-opacity="0.72" stroke-width="1.65" stroke-linejoin="round"/>
<polyline points="679.25,570 681.25,627" fill="none" stroke="#ebf8ef" stroke-opacity="0.72" stroke-width="1.65" stroke-linejoin="round"/>
<polyline points="651.5,605 651.5,627.5 681.25,627" fill="none" stroke="#ebf8ef" stroke-opacity="0.72" stroke-width="1.65" stroke-linejoin="round"/>
<polyline points="816,400 816.75,444.5" fill="none" stroke="#ebf8ef" stroke-opacity="0.72" stroke-width="1.65" stroke-linejoin="round"/>
<polyline points="398.75,519.5 371.25,520" fill="none" stroke="#ebf8ef" stroke-opacity="0.72" stroke-width="1.65" stroke-linejoin="round"/>
<polyline points="340,453.75 351.25,453.75 348.75,462.5 342.5,466.25 338.75,477.5 342.5,479.5 346.25,473.75 350,475 353.75,467.5 360,460 370,461.25 372.5,482.5 367.5,495 370,510" fill="none" stroke="#ebf8ef" stroke-opacity="0.72" stroke-width="1.65" stroke-linejoin="round"/>
<polyline points="322.5,463.75 330,462.5 345,453.75" fill="none" stroke="#ebf8ef" stroke-opacity="0.72" stroke-width="1.65" stroke-linejoin="round"/>
<rect x="180" y="0" width="730" height="710" fill="url(#tex)" clip-path="url(#outclip)"/>
<circle cx="561" cy="340" r="170" fill="none" stroke="#b9c5f8" stroke-opacity="0.6" stroke-width="2.1" stroke-dasharray="11 9"/>
<text x="571.5" y="131" font-family="Liberation Sans, sans-serif" font-weight="700" font-size="10" fill="#c4d2c9" fill-opacity="0.55" text-anchor="start" letter-spacing="0">Oakbrook</text>
<text x="576" y="141.5" font-family="Liberation Sans, sans-serif" font-weight="700" font-size="10" fill="#c4d2c9" fill-opacity="0.55" text-anchor="start" letter-spacing="0">Terrace</text>
<text x="414" y="357" font-family="Liberation Sans, sans-serif" font-weight="700" font-size="11" fill="#8fc7a4" fill-opacity="0.3" text-anchor="start" letter-spacing="0">Downers Grove</text>
<text x="669.5" y="322" font-family="Liberation Sans, sans-serif" font-weight="700" font-size="11" fill="#8fc7a4" fill-opacity="0.3" text-anchor="start" letter-spacing="0">Hinsdale</text>
<text x="729.5" y="295" font-family="Liberation Sans, sans-serif" font-weight="700" font-size="11" fill="#8fc7a4" fill-opacity="0.28" text-anchor="start" letter-spacing="0">Western Sp</text>
<text x="794" y="134" font-family="Liberation Sans, sans-serif" font-weight="700" font-size="11.5" fill="#3c7a52" fill-opacity="0.7" text-anchor="start" letter-spacing="0">Westc</text>
<text x="325" y="503" font-family="Liberation Sans, sans-serif" font-weight="700" font-size="12" fill="#8fc7a4" fill-opacity="0.28" text-anchor="start" letter-spacing="0">Woodridge</text>
<text x="257" y="328" font-family="Liberation Sans, sans-serif" font-weight="700" font-size="11" fill="#8fc7a4" fill-opacity="0.25" text-anchor="start" letter-spacing="0">Lisle</text>
<text x="827" y="274" font-family="Liberation Sans, sans-serif" font-weight="700" font-size="11.5" fill="#56a070" fill-opacity="0.7" text-anchor="start" letter-spacing="0">La</text>
<text x="835" y="399" font-family="Liberation Sans, sans-serif" font-weight="700" font-size="10.5" fill="#8fc7a4" fill-opacity="0.4" text-anchor="start" letter-spacing="0">tryside</text>
<text x="707" y="526" font-family="Liberation Sans, sans-serif" font-weight="700" font-size="10.5" fill="#c4d2c9" fill-opacity="0.4" text-anchor="start" letter-spacing="0">Burr Ridge</text>
<g filter="url(#sh)">
<polygon points="561.3,23.55 580.3,34.425 580.3,56.175 561.3,67.05 542.3,56.175 542.3,34.425" fill="url(#g9)" stroke="#b8400c" stroke-width="1" stroke-linejoin="round"/>
<polygon points="476.5,72.55 495.5,83.425 495.5,105.175 476.5,116.05 457.5,105.175 457.5,83.425" fill="url(#g9)" stroke="#b8400c" stroke-width="1" stroke-linejoin="round"/>
<polygon points="646.1,72.55 665.1,83.425 665.1,105.175 646.1,116.05 627.1,105.175 627.1,83.425" fill="url(#g6)" stroke="#c97208" stroke-width="1" stroke-linejoin="round"/>
<polygon points="391.6,121.55 410.6,132.425 410.6,154.175 391.6,165.05 372.6,154.175 372.6,132.425" fill="url(#g8)" stroke="#c9500b" stroke-width="1" stroke-linejoin="round"/>
<polygon points="561.3,121.55 580.3,132.425 580.3,154.175 561.3,165.05 542.3,154.175 542.3,132.425" fill="url(#g5)" stroke="#b98208" stroke-width="1" stroke-linejoin="round"/>
<polygon points="731,121.55 750,132.425 750,154.175 731,165.05 712,154.175 712,132.425" fill="url(#g5)" stroke="#b98208" stroke-width="1" stroke-linejoin="round"/>
<polygon points="306.8,170.55 325.8,181.425 325.8,203.175 306.8,214.05 287.8,203.175 287.8,181.425" fill="url(#g14)" stroke="#b92326" stroke-width="1" stroke-linejoin="round"/>
<polygon points="476.5,170.55 495.5,181.425 495.5,203.175 476.5,214.05 457.5,203.175 457.5,181.425" fill="url(#g3)" stroke="#466f10" stroke-width="1" stroke-linejoin="round"/>
<polygon points="646.1,170.55 665.1,181.425 665.1,203.175 646.1,214.05 627.1,203.175 627.1,181.425" fill="url(#g4)" stroke="#5a8f12" stroke-width="1" stroke-linejoin="round"/>
<polygon points="815.8,170.55 834.8,181.425 834.8,203.175 815.8,214.05 796.8,203.175 796.8,181.425" fill="url(#g15)" stroke="#b92326" stroke-width="1" stroke-linejoin="round"/>
<polygon points="391.6,219.55 410.6,230.425 410.6,252.175 391.6,263.05 372.6,252.175 372.6,230.425" fill="url(#g3)" stroke="#466f10" stroke-width="1" stroke-linejoin="round"/>
<polygon points="561.3,219.55 580.3,230.425 580.3,252.175 561.3,263.05 542.3,252.175 542.3,230.425" fill="url(#g1)" stroke="#34d399" stroke-width="2.2" stroke-linejoin="round"/>
<polygon points="731,219.55 750,230.425 750,252.175 731,263.05 712,252.175 712,230.425" fill="url(#g7)" stroke="#c9500b" stroke-width="1" stroke-linejoin="round"/>
<polygon points="306.8,268.55 325.8,279.425 325.8,301.175 306.8,312.05 287.8,301.175 287.8,279.425" fill="url(#g8)" stroke="#c9500b" stroke-width="1" stroke-linejoin="round"/>
<polygon points="476.5,268.55 495.5,279.425 495.5,301.175 476.5,312.05 457.5,301.175 457.5,279.425" fill="url(#g1)" stroke="#34d399" stroke-width="2.2" stroke-linejoin="round"/>
<polygon points="646.1,268.55 665.1,279.425 665.1,301.175 646.1,312.05 627.1,301.175 627.1,279.425" fill="url(#g1)" stroke="#34d399" stroke-width="2.2" stroke-linejoin="round"/>
<polygon points="815.8,268.55 834.8,279.425 834.8,301.175 815.8,312.05 796.8,301.175 796.8,279.425" fill="url(#g5)" stroke="#b98208" stroke-width="1" stroke-linejoin="round"/>
<polygon points="391.6,317.55 410.6,328.425 410.6,350.175 391.6,361.05 372.6,350.175 372.6,328.425" fill="url(#g2)" stroke="#136a32" stroke-width="1" stroke-linejoin="round"/>
<polygon points="731,317.55 750,328.425 750,350.175 731,361.05 712,350.175 712,328.425" fill="url(#g8)" stroke="#c9500b" stroke-width="1" stroke-linejoin="round"/>
<polygon points="306.8,366.55 325.8,377.425 325.8,399.175 306.8,410.05 287.8,399.175 287.8,377.425" fill="url(#g6)" stroke="#c97208" stroke-width="1" stroke-linejoin="round"/>
<polygon points="476.5,366.55 495.5,377.425 495.5,399.175 476.5,410.05 457.5,399.175 457.5,377.425" fill="url(#g1)" stroke="#34d399" stroke-width="2.2" stroke-linejoin="round"/>
<polygon points="646.1,366.55 665.1,377.425 665.1,399.175 646.1,410.05 627.1,399.175 627.1,377.425" fill="url(#g1)" stroke="#34d399" stroke-width="2.2" stroke-linejoin="round"/>
<polygon points="815.8,366.55 834.8,377.425 834.8,399.175 815.8,410.05 796.8,399.175 796.8,377.425" fill="url(#g12)" stroke="#b92326" stroke-width="1" stroke-linejoin="round"/>
<polygon points="391.6,415.55 410.6,426.425 410.6,448.175 391.6,459.05 372.6,448.175 372.6,426.425" fill="url(#g2)" stroke="#136a32" stroke-width="1" stroke-linejoin="round"/>
<polygon points="561.3,415.55 580.3,426.425 580.3,448.175 561.3,459.05 542.3,448.175 542.3,426.425" fill="url(#g2)" stroke="#136a32" stroke-width="1" stroke-linejoin="round"/>
<polygon points="731,414.8 751,426.05 751,448.55 731,459.8 711,448.55 711,426.05" fill="url(#g7)" filter="url(#bl)"/>
<polygon points="306.8,464.55 325.8,475.425 325.8,497.175 306.8,508.05 287.8,497.175 287.8,475.425" fill="url(#g4)" stroke="#5a8f12" stroke-width="1" stroke-linejoin="round"/>
<polygon points="476.5,464.55 495.5,475.425 495.5,497.175 476.5,508.05 457.5,497.175 457.5,475.425" fill="url(#g2)" stroke="#136a32" stroke-width="1" stroke-linejoin="round"/>
<polygon points="646.1,464.55 665.1,475.425 665.1,497.175 646.1,508.05 627.1,497.175 627.1,475.425" fill="url(#g5)" stroke="#b98208" stroke-width="1" stroke-linejoin="round"/>
<polygon points="815.8,464.55 834.8,475.425 834.8,497.175 815.8,508.05 796.8,497.175 796.8,475.425" fill="url(#g11)" stroke="#b92326" stroke-width="1" stroke-linejoin="round"/>
<polygon points="391.6,513.55 410.6,524.425 410.6,546.175 391.6,557.05 372.6,546.175 372.6,524.425" fill="url(#g7)" stroke="#c9500b" stroke-width="1" stroke-linejoin="round"/>
<polygon points="561.3,513.55 580.3,524.425 580.3,546.175 561.3,557.05 542.3,546.175 542.3,524.425" fill="url(#g8)" stroke="#c9500b" stroke-width="1" stroke-linejoin="round"/>
<polygon points="731,513.55 750,524.425 750,546.175 731,557.05 712,546.175 712,524.425" fill="url(#g5)" stroke="#b98208" stroke-width="1" stroke-linejoin="round"/>
<polygon points="476.5,562.55 495.5,573.425 495.5,595.175 476.5,606.05 457.5,595.175 457.5,573.425" fill="url(#g7)" stroke="#c9500b" stroke-width="1" stroke-linejoin="round"/>
<polygon points="646.1,562.55 665.1,573.425 665.1,595.175 646.1,606.05 627.1,595.175 627.1,573.425" fill="url(#g6)" stroke="#c97208" stroke-width="1" stroke-linejoin="round"/>
<polygon points="561.3,611.55 580.3,622.425 580.3,644.175 561.3,655.05 542.3,644.175 542.3,622.425" fill="url(#g6)" stroke="#c97208" stroke-width="1" stroke-linejoin="round"/>
</g>
<text x="561.3" y="51" text-anchor="middle" font-family="Liberation Sans, sans-serif" font-weight="700" font-size="11.3" fill="#fff">9</text>
<text x="476.5" y="100" text-anchor="middle" font-family="Liberation Sans, sans-serif" font-weight="700" font-size="11.3" fill="#fff">9</text>
<text x="646.1" y="100" text-anchor="middle" font-family="Liberation Sans, sans-serif" font-weight="700" font-size="11.3" fill="#fff">6</text>
<text x="391.6" y="149" text-anchor="middle" font-family="Liberation Sans, sans-serif" font-weight="700" font-size="11.3" fill="#fff">8</text>
<text x="561.3" y="149" text-anchor="middle" font-family="Liberation Sans, sans-serif" font-weight="700" font-size="11.3" fill="#fff">5</text>
<text x="731" y="149" text-anchor="middle" font-family="Liberation Sans, sans-serif" font-weight="700" font-size="11.3" fill="#fff">5</text>
<text x="306.8" y="198" text-anchor="middle" font-family="Liberation Sans, sans-serif" font-weight="700" font-size="11" fill="#fff">14</text>
<text x="476.5" y="198" text-anchor="middle" font-family="Liberation Sans, sans-serif" font-weight="700" font-size="11.3" fill="#fff">3</text>
<text x="646.1" y="198" text-anchor="middle" font-family="Liberation Sans, sans-serif" font-weight="700" font-size="11.3" fill="#fff">4</text>
<text x="815.8" y="198" text-anchor="middle" font-family="Liberation Sans, sans-serif" font-weight="700" font-size="11" fill="#fff">15</text>
<text x="391.6" y="247" text-anchor="middle" font-family="Liberation Sans, sans-serif" font-weight="700" font-size="11.3" fill="#fff">3</text>
<text x="561.3" y="247" text-anchor="middle" font-family="Liberation Sans, sans-serif" font-weight="700" font-size="11.3" fill="#fff">1</text>
<text x="731" y="247" text-anchor="middle" font-family="Liberation Sans, sans-serif" font-weight="700" font-size="11.3" fill="#fff">7</text>
<text x="306.8" y="296" text-anchor="middle" font-family="Liberation Sans, sans-serif" font-weight="700" font-size="11.3" fill="#fff">8</text>
<text x="476.5" y="296" text-anchor="middle" font-family="Liberation Sans, sans-serif" font-weight="700" font-size="11.3" fill="#fff">1</text>
<text x="646.1" y="296" text-anchor="middle" font-family="Liberation Sans, sans-serif" font-weight="700" font-size="11.3" fill="#fff">1</text>
<text x="815.8" y="296" text-anchor="middle" font-family="Liberation Sans, sans-serif" font-weight="700" font-size="11.3" fill="#fff">5</text>
<text x="391.6" y="345" text-anchor="middle" font-family="Liberation Sans, sans-serif" font-weight="700" font-size="11.3" fill="#fff">2</text>
<text x="731" y="345" text-anchor="middle" font-family="Liberation Sans, sans-serif" font-weight="700" font-size="11.3" fill="#fff">8</text>
<text x="306.8" y="394" text-anchor="middle" font-family="Liberation Sans, sans-serif" font-weight="700" font-size="11.3" fill="#fff">6</text>
<text x="476.5" y="394" text-anchor="middle" font-family="Liberation Sans, sans-serif" font-weight="700" font-size="11.3" fill="#fff">1</text>
<text x="646.1" y="394" text-anchor="middle" font-family="Liberation Sans, sans-serif" font-weight="700" font-size="11.3" fill="#fff">1</text>
<text x="815.8" y="394" text-anchor="middle" font-family="Liberation Sans, sans-serif" font-weight="700" font-size="11" fill="#fff">12</text>
<text x="391.6" y="443" text-anchor="middle" font-family="Liberation Sans, sans-serif" font-weight="700" font-size="11.3" fill="#fff">2</text>
<text x="561.3" y="443" text-anchor="middle" font-family="Liberation Sans, sans-serif" font-weight="700" font-size="11.3" fill="#fff">2</text>
<text x="306.8" y="492" text-anchor="middle" font-family="Liberation Sans, sans-serif" font-weight="700" font-size="11.3" fill="#fff">4</text>
<text x="476.5" y="492" text-anchor="middle" font-family="Liberation Sans, sans-serif" font-weight="700" font-size="11.3" fill="#fff">2</text>
<text x="646.1" y="492" text-anchor="middle" font-family="Liberation Sans, sans-serif" font-weight="700" font-size="11.3" fill="#fff">5</text>
<text x="815.8" y="492" text-anchor="middle" font-family="Liberation Sans, sans-serif" font-weight="700" font-size="11" fill="#fff">11</text>
<text x="391.6" y="541" text-anchor="middle" font-family="Liberation Sans, sans-serif" font-weight="700" font-size="11.3" fill="#fff">7</text>
<text x="561.3" y="541" text-anchor="middle" font-family="Liberation Sans, sans-serif" font-weight="700" font-size="11.3" fill="#fff">8</text>
<text x="731" y="541" text-anchor="middle" font-family="Liberation Sans, sans-serif" font-weight="700" font-size="11.3" fill="#fff">5</text>
<text x="476.5" y="590" text-anchor="middle" font-family="Liberation Sans, sans-serif" font-weight="700" font-size="11.3" fill="#fff">7</text>
<text x="646.1" y="590" text-anchor="middle" font-family="Liberation Sans, sans-serif" font-weight="700" font-size="11.3" fill="#fff">6</text>
<text x="561.3" y="639" text-anchor="middle" font-family="Liberation Sans, sans-serif" font-weight="700" font-size="11.3" fill="#fff">6</text>
<g filter="url(#sh)"><circle cx="561" cy="339.3" r="14.4" fill="url(#gstar)" stroke="#fff" stroke-width="2.7"/></g>
<path transform="translate(561 339.5) scale(0.62)" d="M0,-9 L2.6,-3.2 L8.8,-2.7 L4.1,1.4 L5.5,7.5 L0,4.3 L-5.5,7.5 L-4.1,1.4 L-8.8,-2.7 L-2.6,-3.2 Z" fill="#fff"/>
<g filter="url(#sh)"><circle cx="576.9" cy="355.2" r="8.6" fill="#0a6b4e" stroke="#fff" stroke-width="2"/></g>
<text x="576.9" y="358.5" text-anchor="middle" font-family="Liberation Sans, sans-serif" font-weight="700" font-size="9.200" fill="#fff">1</text>
</g>
</svg><div id="tip"><b>Tract 8201.01</b><br>Population: 7,998<br>Density: 2,971/mi²<br><span class="g">2.69 mi²</span></div><div id="tiparrow"></div><div id="panel"><div id="ptop"></div><div class="ring" style="left:26px"><svg width="64" height="64"><circle cx="32" cy="32" r="29.8" fill="none" stroke="#262626" stroke-width="4.4"/><circle cx="32" cy="32" r="29.8" fill="none" stroke="#eab308" stroke-width="4.4" stroke-linecap="round" stroke-dasharray="134.81 187.24" transform="rotate(-90 32 32)"/></svg><div class="val" style="color:#eab308">5.6</div></div><div class="ring" style="left:113px"><svg width="64" height="64"><circle cx="32" cy="32" r="29.8" fill="none" stroke="#262626" stroke-width="4.4"/><circle cx="32" cy="32" r="29.8" fill="none" stroke="#22c55e" stroke-width="4.4" stroke-linecap="round" stroke-dasharray="187.24 187.24" transform="rotate(-90 32 32)"/></svg><div class="val" style="color:#22c55e">100%</div></div><div class="ring" style="left:196px"><svg width="64" height="64"><circle cx="32" cy="32" r="29.8" fill="none" stroke="#262626" stroke-width="4.4"/><circle cx="32" cy="32" r="29.8" fill="none" stroke="#f97316" stroke-width="4.4" stroke-linecap="round" stroke-dasharray="65.53 187.24" transform="rotate(-90 32 32)"/></svg><div class="val" style="color:#f97316">35%</div></div><div class="rlab" style="left:24px;padding-left:16px"><svg width="12" height="12" viewBox="0 0 24 24" fill="none" stroke="#8b8b8b" stroke-width="2.2" style="left:0"><circle cx="12" cy="12" r="10"/><circle cx="12" cy="12" r="6"/><circle cx="12" cy="12" r="2"/></svg>Avg Rank</div><div class="rlab" style="left:109px;padding-left:16px"><svg width="12" height="12" viewBox="0 0 24 24" fill="none" stroke="#8b8b8b" stroke-width="2.2" stroke-linecap="round" stroke-linejoin="round" style="left:0"><polyline points="22 7 13.5 15.5 8.5 10.5 2 17"/><polyline points="16 7 22 7 22 13"/></svg>Coverage</div><div class="rlab" style="left:210px;padding-left:16px"><svg width="12" height="12" viewBox="0 0 24 24" fill="none" stroke="#8b8b8b" stroke-width="2.2" stroke-linecap="round" stroke-linejoin="round" style="left:0"><path d="m3 11 18-5v12L3 14v-3z"/><path d="M11.6 16.8a3 3 0 1 1-5.8-1.6"/></svg>Ads</div><div class="card" style="left:9px;background:#101f14;border-color:#1a4a2a"><div class="ic" style="background:#173f27"><svg width="40" height="40" viewBox="0 0 40 40" fill="none" stroke="#22c55e" stroke-width="1.9" stroke-linecap="round" stroke-linejoin="round"><circle cx="20" cy="17" r="5"/><path d="M16.9 20.9 15.8 28.5 20 26 24.2 28.5 23.1 20.9"/></svg></div><div class="t1">Best</div><div class="t2" style="color:#22c55e">#1</div></div><div class="card" style="left:148px;background:#271212;border-color:#6a2424"><div class="ic" style="background:#4d1f1f"><svg width="40" height="40" viewBox="0 0 40 40" fill="none" stroke="#ef4444" stroke-width="2" stroke-linecap="round"><circle cx="20" cy="20" r="8"/><path d="M20 16v4.5"/><path d="M20 23.6v.1"/></svg></div><div class="t1">Worst</div><div class="t2" style="color:#ef4444">#15</div></div><div id="info"><svg style="position:absolute;left:23px;top:10px" width="12" height="12" viewBox="0 0 24 24" fill="none" stroke="#8b8b8b" stroke-width="2.2" stroke-linecap="round" stroke-linejoin="round"><path d="M20 10c0 6-8 12-8 12s-8-6-8-12a8 8 0 0 1 16 0Z"/><circle cx="12" cy="10" r="3"/></svg><span style="left:43px">37×37 grid</span><span style="left:114px;color:#555">•</span><span style="left:128px">3 mi</span><span style="left:161px;color:#555">•</span><span style="left:175px">37/37 found</span></div><div id="export"><svg style="position:absolute;left:13px;top:9px" width="16" height="16" viewBox="0 0 24 24" fill="none" stroke="#ececec" stroke-width="2" stroke-linecap="round" stroke-linejoin="round"><path d="M15 2H6a2 2 0 0 0-2 2v16a2 2 0 0 0 2 2h12a2 2 0 0 0 2-2V7Z"/><path d="M14 2v4a2 2 0 0 0 2 2h4"/><path d="M12 18v-6"/><path d="m9 15 3 3 3-3"/></svg><span>Export PDF</span></div></div><div id="tb"><svg style="position:absolute;left:27px;top:21px" width="16" height="16" viewBox="0 0 24 24" fill="none" stroke="#e5e5e5" stroke-width="2.2" stroke-linecap="round" stroke-linejoin="round"><rect x="3" y="3" width="18" height="18" rx="2"/><path d="M3 9h18M3 15h18M9 3v18M15 3v18"/></svg><div class="tx" style="left:51px;font-size:15px;color:#ededed">Analysis</div><div class="vd" style="left:127px"></div><svg style="position:absolute;left:144px;top:21px" width="16" height="16" viewBox="0 0 24 24" fill="none" stroke="#7a7a7a" stroke-width="2" stroke-linecap="round" stroke-linejoin="round"><path d="M2 12s3.6-7 10-7 10 7 10 7-3.6 7-10 7-10-7-10-7Z"/><circle cx="12" cy="12" r="3"/></svg><div class="tx" style="left:168.5px;font-size:12.6px;color:#e0e0e0">Gaps</div><div class="tog" style="left:212px;background:#262626"><i style="left:2px"></i></div><svg style="position:absolute;left:274px;top:21px" width="16" height="16" viewBox="0 0 24 24" fill="none" stroke="#34d399" stroke-width="2" stroke-linejoin="round"><path d="M21 16V8a2 2 0 0 0-1-1.73l-7-4a2 2 0 0 0-2 0l-7 4A2 2 0 0 0 3 8v8a2 2 0 0 0 1 1.73l7 4a2 2 0 0 0 2 0l7-4A2 2 0 0 0 21 16z"/></svg><div class="tx" style="left:298px;font-size:12.6px;color:#e0e0e0">Grid</div><div class="tog" style="left:335.5px;background:#c5f400"><i style="right:2px"></i></div><svg style="position:absolute;left:398px;top:21px" width="16" height="16" viewBox="0 0 24 24" fill="none" stroke="#a855f7" stroke-width="2" stroke-linecap="round" stroke-linejoin="round"><path d="M16 21v-2a4 4 0 0 0-4-4H6a4 4 0 0 0-4 4v2"/><circle cx="9" cy="7" r="4"/><path d="M22 21v-2a4 4 0 0 0-3-3.87"/><path d="M16 3.13a4 4 0 0 1 0 7.75"/></svg><svg style="position:absolute;left:430px;top:22px" width="15" height="14" viewBox="0 0 15 14"><defs><linearGradient id="eb" x1="0" y1="0" x2="0" y2="1"><stop offset="0" stop-color="#86a9cd"/><stop offset="1" stop-color="#3d6287"/></linearGradient></defs><g fill="url(#eb)"><ellipse cx="4" cy="4.400" rx="2.900" ry="3.700"/><ellipse cx="11" cy="4.400" rx="2.900" ry="3.700"/><path d="M0 13.600C0 10.800 1.300 9.300 4 9.300S7.600 10.800 7.600 13.600Z"/><path d="M7.400 13.600C7.400 10.800 8.300 9.300 11 9.300S15 10.800 15 13.600Z"/></g></svg><div class="tx" style="left:449px;font-size:12.7px;color:#e0e0e0">Population</div><svg style="position:absolute;left:513px;top:21px" width="16" height="16" viewBox="0 0 24 24" fill="none" stroke="#e0e0e0" stroke-width="2.2" stroke-linecap="round" stroke-linejoin="round"><path d="m6 9 6 6 6-6"/></svg><div class="tog" style="left:550.5px;background:#c5f400"><i style="right:2px"></i></div><div class="vd" style="left:605px"></div><svg style="position:absolute;left:626px;top:21px" width="16" height="16" viewBox="0 0 24 24" fill="none" stroke="#ededed" stroke-width="2" stroke-linecap="round" stroke-linejoin="round"><path d="M3 12a9 9 0 1 0 9-9 9.750 9.750 0 0 0-6.740 2.740L3 8"/><path d="M3 3v5h5"/><path d="M12 7v5l4 2"/></svg><div class="tx" style="left:650.5px;font-size:15px;color:#ededed">History</div></div><div id="lg"><div class="hl"><svg style="position:absolute;left:176px;top:8px" width="12" height="12" viewBox="0 0 24 24" fill="none" stroke="#747474" stroke-width="2.2" stroke-linecap="round" stroke-linejoin="round"><path d="m6 9 6 6 6-6"/></svg><span style="position:absolute;left:194.5px">Hide Legend</span></div><div class="sep"></div><div style="position:absolute;left:15px;top:36px;width:20px;height:20px;border-radius:50%;background:linear-gradient(135deg,#a855f7,#7c3aed);border:2px solid #fff"></div><svg style="position:absolute;left:20px;top:41px" width="10" height="10" viewBox="-9 -9 18 18"><path d="M0,-9 L2.6,-3.2 L8.8,-2.7 L4.1,1.4 L5.5,7.5 L0,4.3 L-5.5,7.5 L-4.1,1.4 L-8.8,-2.7 L-2.6,-3.2 Z" fill="#fff"/></svg><div class="lt" style="left:41.5px;color:#d4d4d4">You</div><div style="position:absolute;left:74px;top:38px;width:1px;height:16px;background:#2a2a2a"></div><div class="dot" style="left:87px;background:#0b7457;font-size:9px">1</div><div class="dot" style="left:107px;background:#1d9747;font-size:9px">2</div><div class="dot" style="left:127px;background:#5d9612;font-size:9px">3</div><div class="lt" style="left:152px;color:#34d399">Map Pack</div><div class="dot" style="left:220px;background:#e0a010;font-size:9px">5</div><div class="lt" style="left:242.5px;color:#fbbf24">4-6</div><div class="dot" style="left:274px;background:#f4721a;font-size:9px">8</div><div class="lt" style="left:297px;color:#fb923c">7-10</div><div class="dot" style="left:334px;background:#e5383b;font-size:8px">12</div><div class="lt" style="left:356px;color:#f87171">11+</div><div class="dot" style="left:386px;background:#55555d;font-size:9px"><span style="display:inline-block;width:8px;height:2px;background:#e5e5e5;vertical-align:middle;margin-top:-2px;border-radius:1px"></span></div><div class="lt" style="left:408.5px;color:#747474">N/F</div></div></div></body></html>
